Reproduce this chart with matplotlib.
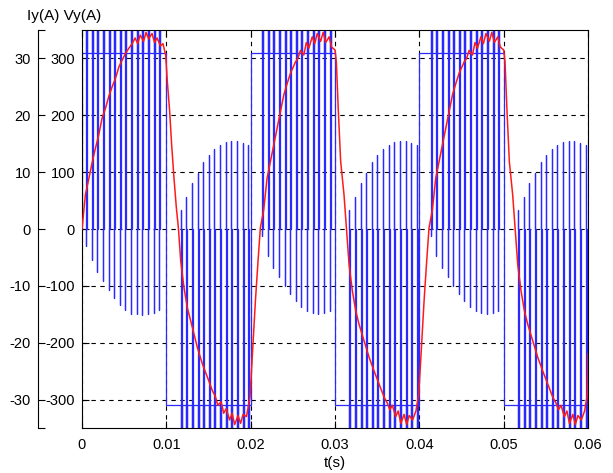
import numpy as np
import matplotlib
matplotlib.use('Agg')
import matplotlib.pyplot as plt

plt.rcParams['font.family'] = ['Liberation Sans', 'DejaVu Sans']
plt.rcParams['font.size'] = 10.5

# ---- data ----
# x axis ticks
x_ticks = [0, 0.01, 0.02, 0.03, 0.04, 0.05, 0.06]
x_labels = ['0', '0.01', '0.02', '0.03', '0.04', '0.05', '0.06']
v_ticks = [-300, -200, -100, 0, 100, 200, 300]
v_labels = ['-300', '-200', '-100', '0', '100', '200', '300']
i_ticks = [-35, -30, -20, -10, 0, 10, 20, 30, 35]
i_labels = ['', '-30', '-20', '-10', '0', '10', '20', '30', '']

# PWM voltage Vy
v_dc = 310          # flat level between pulses
v_rail = 400        # pulses run off the axes
t_sw = 0.000667     # spacing of the pulses
w_pulse = 0.00012   # width of one pulse
half_start = [0.0, 0.01, 0.02, 0.03, 0.04, 0.05]
half_sign = [1, -1, 1, -1, 1, -1]

# spike tips in the first positive half cycle
pos1_offset = 0.00048
pos1_env = [-30, -55, -75, -92, -108, -121, -133, -143, -149, -150, -151, -150, -148, -143]
# spike tips in the later positive half cycles
pos_offset = 0.00135
pos_env = [-13, -47, -68, -85, -101, -115, -127, -137, -144, -148, -149, -148, -144]
# spike tips in the negative half cycles
neg_offset = 0.0017
neg_env = [34, 56, 81, 99, 117, 130, 141, 148, 153, 155, 154, 151, 148]

# current Iy, first period (starts from zero)
i1_t = [0.0, 0.0004, 0.00079, 0.00119, 0.00159, 0.00198, 0.00238, 0.00278, 0.00317,
        0.00357, 0.00397, 0.00437, 0.00476, 0.00516, 0.00556, 0.00595, 0.0063, 0.0066,
        0.0069, 0.0073, 0.0076, 0.0079, 0.0083, 0.0086, 0.0089, 0.0093, 0.0096, 0.00992,
        0.01012, 0.0104, 0.01063, 0.01091, 0.01119, 0.01143, 0.01171, 0.0121, 0.0125,
        0.0129, 0.01329, 0.01369, 0.01429, 0.01488, 0.01548, 0.0158, 0.0161, 0.0165,
        0.0168, 0.0171, 0.0175, 0.0178, 0.0181, 0.0185, 0.0188, 0.0191, 0.0195, 0.01992]
i1_a = [0.0, 6.0, 8.7, 11.6, 14.2, 16.5, 19.5, 21.2, 23.3,
        25.0, 26.5, 28.5, 29.7, 30.9, 31.8, 32.6, 33.6, 32.6,
        34.1, 33.0, 34.6, 33.4, 34.4, 32.8, 33.6, 32.2, 32.6, 30.6,
        25.9, 20.6, 14.8, 8.9, 3.7, 0.2, -5.7, -10.4, -13.9,
        -16.2, -18.5, -20.9, -23.8, -26.1, -28.5, -29.4, -31.0, -30.4,
        -32.4, -31.6, -33.6, -32.4, -34.4, -32.8, -34.2, -32.6, -33.0, -29.6]

# current Iy, steady period (same for the 2nd and 3rd period)
i_t = [0.00016, 0.00056, 0.00087, 0.00115, 0.00155, 0.00194, 0.00234, 0.00274, 0.00313,
       0.00353, 0.00393, 0.00433, 0.00472, 0.00532, 0.0056, 0.0059, 0.0063, 0.0066,
       0.0069, 0.0073, 0.0076, 0.0079, 0.0083, 0.0086, 0.0089, 0.0093, 0.0096, 0.0100,
       0.01016, 0.0104, 0.01067, 0.01107, 0.01135, 0.01167, 0.01206, 0.01246, 0.01286,
       0.01345, 0.01405, 0.01464, 0.01524, 0.01583, 0.0162, 0.0165, 0.0168, 0.0172,
       0.0175, 0.0178, 0.0182, 0.0185, 0.0188, 0.0192, 0.0196, 0.01992]
i_a = [-23.2, -12.7, -5.7, 0.2, 3.4, 8.9, 11.9, 14.8, 17.7,
       20.6, 23.6, 25.6, 27.4, 29.4, 30.0, 31.4, 30.6, 32.8,
       31.8, 33.8, 32.6, 34.4, 33.0, 34.6, 32.8, 33.8, 32.0, 31.5,
       29.4, 20.6, 11.9, 6.0, 0.2, -6.3, -10.9, -14.4, -16.8,
       -19.7, -22.6, -25.0, -27.3, -29.6, -30.6, -31.8, -31.0, -33.0,
       -32.0, -34.2, -32.6, -34.4, -32.8, -33.6, -32.0, -29.1]

# ---- build the PWM polyline ----
tb = [0.0]
vb = [0.0]
for h, ts in enumerate(half_start):
    s = half_sign[h]
    if h == 0:
        off, env = pos1_offset, pos1_env
    elif s > 0:
        off, env = pos_offset, pos_env
    else:
        off, env = neg_offset, neg_env
    tb += [ts]
    vb += [s * v_dc]
    for k, e in enumerate(env):
        t = ts + off + k * t_sw
        tb += [t, t, t, t, t + w_pulse, t + w_pulse, t + w_pulse]
        vb += [s * v_dc, s * v_rail, e, 0, 0, s * v_rail, s * v_dc]
    tb += [ts + 0.01]
    vb += [s * v_dc]

# current over three periods
ti = list(i1_t) + [0.02 + t for t in i_t] + [0.04 + t for t in i_t] + [0.06]
ia = list(i1_a) + list(i_a) + list(i_a) + [-22.0]

# ---- figure ----
fig = plt.figure(figsize=(6.13, 4.73), dpi=100)
bot = 45 / 473
hgt = 398 / 473
ax = fig.add_axes([82 / 613, bot, 506 / 613, hgt])

ax.plot(tb, vb, color='#2a2aff', linewidth=0.9, zorder=2)
ax.set_xlim(0, 0.06)
ax.set_ylim(-350, 350)
ax.set_xticks(x_ticks)
ax.set_xticklabels(x_labels)
ax.set_yticks(v_ticks)
ax.set_yticklabels(v_labels)
ax.tick_params(direction='in', length=5, width=0.8, top=True, right=True, pad=5)
ax.tick_params(axis='x', pad=7)
ax.grid(True, color='black', linestyle=(0, (4, 4)), linewidth=0.8)
ax.set_axisbelow(True)
for sp in ax.spines.values():
    sp.set_linewidth(0.8)
ax.set_xlabel('t(s)', fontsize=11, labelpad=3)

# current on its own scale (same frame)
ax_r = ax.twinx()
ax_r.plot(ti, ia, color='#ff1a1a', linewidth=1.1)
ax_r.set_ylim(-35, 35)
ax_r.set_axis_off()

# outer axis for Iy
ax_i = fig.add_axes([38 / 613, bot, 0.0001, hgt])
ax_i.set_ylim(-35, 35)
ax_i.set_yticks(i_ticks)
ax_i.set_yticklabels(i_labels)
ax_i.set_xticks([])
ax_i.patch.set_visible(False)
for name in ['top', 'right', 'bottom']:
    ax_i.spines[name].set_visible(False)
ax_i.spines['left'].set_linewidth(0.8)
ax_i.tick_params(axis='y', direction='in', length=5, width=0.8, pad=5)

fig.text(27 / 613, 1 - 16 / 473, 'Iy(A) Vy(A)', fontsize=11, va='center', ha='left')

fig.savefig('out.png', dpi=100)
